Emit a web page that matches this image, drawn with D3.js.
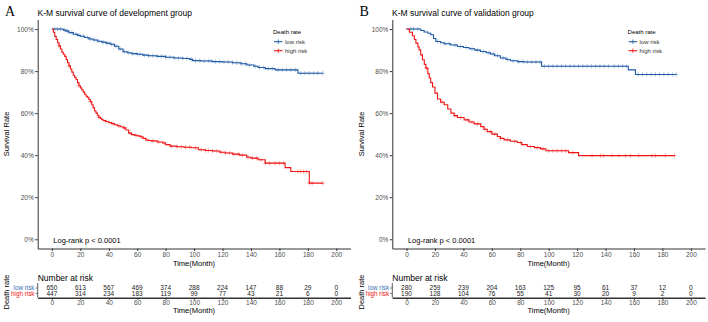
<!DOCTYPE html>
<html>
<head>
<meta charset="utf-8">
<script src="https://cdn.jsdelivr.net/npm/d3@7/dist/d3.min.js"></script>
<style>
  html, body { margin: 0; padding: 0; background: #fff; }
  svg { display: block; font-family: "Liberation Sans", Arial, sans-serif; }
  .axis path, .axis line { stroke: #333; }
  .axis text { fill: #4d4d4d; font-size: 6.5px; }
</style>
</head>
<body>
<div id="chart"></div>
<script>
/* Kaplan-Meier curves, development vs validation group, with risk tables. */

var timeTicks = [0, 20, 40, 60, 80, 100, 120, 140, 160, 180, 200];
var rateTicks = [0, 20, 40, 60, 80, 100];
var groups = ["low risk", "high risk"];

// development group, step times (months) and survival (%)
var devLowTime = [0, 8, 10, 12, 15, 18, 20, 23, 26, 29, 32, 35, 38, 41, 44, 47, 50, 53, 56, 60, 64, 68, 74, 80, 86, 92, 97, 99, 105, 113, 120, 127, 133, 137, 142, 145, 150, 157, 173];
var devLowSurv = [100, 99.5, 99, 98.3, 97.5, 97, 96.6, 96, 95.3, 94.8, 94.2, 93.8, 93.3, 92.8, 91.8, 90.5, 89.2, 88.7, 88.3, 88, 87.6, 87.3, 87, 86.6, 86.2, 86, 85.6, 85, 84.8, 84.5, 84.3, 84, 83.5, 82.9, 82.3, 81.7, 81.2, 80.6, 79];
var devLowCens = [2, 4, 6, 9, 11, 14, 17, 19, 22, 25, 27, 30, 33, 36, 39, 42, 45, 48, 51, 54, 57, 60, 62, 65, 68, 71, 74, 77, 80, 83, 86, 89, 92, 95, 98, 101, 104, 107, 110, 112, 115, 118, 121, 124, 127, 130, 133, 136, 139, 143, 146, 149, 152, 155, 159, 162, 165, 168, 171, 175, 178, 181, 184, 187, 190.5];

var devHighTime = [0, 1, 2, 3, 4, 5, 6, 7, 8, 9, 10, 11, 12, 13, 14, 15, 16, 17, 18, 19, 20, 21, 22, 23, 24, 25, 26, 27, 28, 29, 30, 31, 32, 33, 34, 35, 36, 38, 40, 42, 44, 46, 48, 50, 52, 54, 56, 58, 60, 62, 64, 66, 68, 70, 74, 78, 80, 83, 88, 93, 98, 103, 108, 113, 118, 122, 127, 132, 137, 140, 145, 150, 164, 168, 181];
var devHighSurv = [100, 98.5, 96.5, 95, 93.5, 92, 90.5, 89, 88, 87, 85.5, 84, 82.5, 81, 79.5, 78, 77, 76, 74.5, 73, 72, 71, 70, 69, 68, 67.5, 66.5, 65.5, 64, 62.5, 61, 60, 59, 58, 57.5, 57, 56.5, 56, 55.5, 55, 54.5, 54, 53.5, 53, 52, 50.5, 49.8, 49.5, 49.2, 48.8, 48, 47.2, 47, 46.8, 46.3, 45.8, 45, 44.3, 44, 43.8, 43.5, 42.6, 42.2, 42, 41.4, 41, 40.5, 40, 39, 38.6, 37.8, 36.2, 34.1, 32.2, 26.7];
var devHighCens = [5, 12, 19, 27, 33, 38, 43, 47, 51, 55, 59, 63, 67, 71, 75, 79, 84, 88, 91, 94, 97, 101, 105, 108, 110, 113, 116, 119, 122, 125, 128, 131, 134, 138, 141, 144, 147, 150, 153, 157, 160, 163, 173, 175, 177, 179, 181, 183, 190.6];

// validation group
var valLowTime = [0, 10, 12.4, 15, 17, 19, 20.6, 24, 26.5, 31, 35.8, 40, 44, 48, 52, 56, 59, 62, 66, 70, 73, 78, 82.6, 95, 156, 161];
var valLowSurv = [100, 99.3, 98.6, 98, 97.3, 95.5, 94.1, 93.5, 93, 92.4, 91.7, 91.2, 90.6, 90, 89.3, 88.7, 88.1, 87.3, 86.2, 85.5, 84.9, 84.5, 84.3, 82.3, 80.6, 78.4];
var valLowCens = [3, 5, 8, 22, 27, 30, 34, 38, 42, 46, 50, 54, 58, 61, 64, 68, 71, 75, 79, 82, 85, 88, 91, 94, 97, 100, 103, 106, 109, 112, 115, 118, 121, 124, 127, 130, 133, 136, 139, 142, 146, 149, 152, 154.7, 163, 166, 169, 172, 175, 178, 181, 184, 187, 189.7];

var valHighTime = [0, 2, 4.2, 5.5, 6.6, 8, 8.9, 10, 11.2, 12.5, 13.6, 15, 16, 17, 18.3, 20, 21.8, 24, 26.5, 29, 31.2, 33.5, 35.8, 40.5, 44, 47.5, 52.2, 54.5, 56.8, 60, 63.9, 66, 68.6, 73, 77.9, 81, 84.9, 90, 94.3, 98, 114, 121];
var valHighSurv = [100, 98.5, 96.8, 95, 93.3, 91.5, 90.1, 87.7, 85.4, 83.2, 81.4, 78.8, 76.7, 74.5, 72.4, 69.5, 66.7, 65.2, 64, 62, 60, 58.8, 57.9, 56.8, 55.8, 54.9, 53.6, 52.3, 51.2, 50, 48.9, 48, 47.3, 46.6, 46, 45, 44.1, 43.6, 43, 42.1, 41.2, 39.8];
var valHighCens = [14, 25, 34, 38, 43, 46, 50, 55, 59, 62, 66, 71, 76, 80, 87, 92, 96, 100, 103, 106, 109, 112, 117, 130.5, 136.4, 138.7, 144.6, 149.3, 154, 157.5, 163.3, 172.6, 175, 182, 188.5];

// number at risk at each time tick
var devRiskLow = [650, 613, 567, 469, 374, 288, 224, 147, 88, 29, 0];
var devRiskHigh = [447, 314, 234, 183, 119, 99, 77, 43, 21, 6, 0];
var valRiskLow = [280, 259, 239, 204, 163, 125, 95, 61, 37, 12, 0];
var valRiskHigh = [190, 128, 104, 76, 55, 41, 30, 20, 9, 2, 0];

var colorLow = "#1f5aa6";
var colorHigh = "#f01414";

var width = 708, height = 322;
var svg = d3.select("#chart").append("svg")
  .attr("width", width).attr("height", height)
  .attr("viewBox", "0 0 " + width + " " + height);

function stepValue(times, surv, t) {
  var i = d3.bisectRight(times, t) - 1;
  return surv[Math.max(0, i)];
}

function drawPanel(ox, tag, title, low, high, riskLow, riskHigh) {
  var g = svg.append("g").attr("transform", "translate(" + ox + ",0)");
  var x = d3.scaleLinear().domain([-10, 210]).range([37.7, 350.5]);
  var y = d3.scaleLinear().domain([-4.4, 104.5]).range([248.5, 19.6]);

  g.append("text").attr("x", 5).attr("y", 16)
    .style("font-family", "'Liberation Serif', 'DejaVu Serif', serif")
    .style("font-size", "14px").text(tag);
  g.append("text").attr("x", 37.5).attr("y", 15.5)
    .style("font-size", "8.5px").text(title);

  g.append("g").attr("class", "axis").attr("transform", "translate(0," + y(-4.4) + ")")
    .call(d3.axisBottom(x).tickValues(timeTicks).tickSize(2.5).tickSizeOuter(0).tickPadding(1.5));
  g.append("g").attr("class", "axis").attr("transform", "translate(37.7,0)")
    .call(d3.axisLeft(y).tickValues(rateTicks).tickSize(2.5).tickSizeOuter(0).tickPadding(1.5)
      .tickFormat(function (v) { return v + "%"; }));

  g.append("text").attr("x", 194).attr("y", 265.5).attr("text-anchor", "middle")
    .style("font-size", "7.5px").text("Time(Month)");
  g.append("text").attr("transform", "translate(9,134) rotate(-90)").attr("text-anchor", "middle")
    .style("font-size", "7.5px").text("Survival Rate");

  var line = d3.line().curve(d3.curveStepAfter)
    .x(function (d) { return x(d[0]); }).y(function (d) { return y(d[1]); });

  [[low, colorLow], [high, colorHigh]].forEach(function (s) {
    var d = s[0], col = s[1];
    var pts = d.time.map(function (t, i) { return [t, d.surv[i]]; });
    var tEnd = d3.max(d.cens);
    pts.push([tEnd, d.surv[d.surv.length - 1]]);
    g.append("path").attr("d", line(pts)).attr("fill", "none")
      .attr("stroke", col).attr("stroke-width", 1.1);
    var marks = g.append("g").attr("stroke", col).attr("stroke-width", 0.7).attr("opacity", 0.5);
    d.cens.forEach(function (t) {
      var cx = x(t), cy = y(stepValue(d.time, d.surv, t));
      marks.append("line").attr("x1", cx - 2.2).attr("x2", cx + 2.2).attr("y1", cy).attr("y2", cy);
      marks.append("line").attr("x1", cx).attr("x2", cx).attr("y1", cy - 2.2).attr("y2", cy + 2.2);
    });
  });

  /* Legend */
  var lg = g.append("g").attr("transform", "translate(273,0)");
  lg.append("text").attr("x", 0).attr("y", 34).style("font-size", "6px").text("Death rate");
  [colorLow, colorHigh].forEach(function (col, i) {
    var ly = 41.7 + i * 9;
    lg.append("line").attr("x1", 1).attr("x2", 9.5).attr("y1", ly).attr("y2", ly)
      .attr("stroke", col).attr("stroke-width", 1.1);
    lg.append("line").attr("x1", 5.25).attr("x2", 5.25).attr("y1", ly - 2.2).attr("y2", ly + 2.2)
      .attr("stroke", col).attr("stroke-width", 0.8);
    lg.append("text").attr("x", 12).attr("y", ly + 2).style("font-size", "6px")
      .style("fill", "#333").text(groups[i]);
  });

  g.append("text").attr("x", 53.3).attr("y", 242.8).style("font-size", "7.5px")
    .text("Log-rank  p < 0.0001");

  /* Risk table */
  g.append("text").attr("x", 37.7).attr("y", 281).style("font-size", "8.5px").text("Number at risk");
  var rowY = [288, 293.5];
  var rows = [riskLow, riskHigh];
  rows.forEach(function (vals, r) {
    g.append("text").attr("x", 34.5).attr("y", rowY[r] + 2.3).attr("text-anchor", "end")
      .style("font-size", "6.3px").style("fill", r === 0 ? "#3a6fb5" : colorHigh).text(groups[r]);
    vals.forEach(function (v, i) {
      g.append("text").attr("x", x(timeTicks[i])).attr("y", rowY[r] + 2.3)
        .attr("text-anchor", "middle").style("font-size", "6.5px").style("fill", "#222").text(v);
    });
    g.append("line").attr("x1", 35.5).attr("x2", 37.7).attr("y1", rowY[r]).attr("y2", rowY[r])
      .attr("stroke", "#333").attr("stroke-width", 0.6);
  });
  g.append("line").attr("x1", 37.7).attr("x2", 37.7).attr("y1", 283).attr("y2", 297.8)
    .attr("stroke", "#333").attr("stroke-width", 0.8);
  g.append("g").attr("class", "axis").attr("transform", "translate(0,297.8)")
    .call(d3.axisBottom(x).tickValues(timeTicks).tickSize(2).tickSizeOuter(0).tickPadding(0.8))
    .select(".domain").attr("stroke", "#888").attr("stroke-width", 1.5);
  g.append("text").attr("x", 194).attr("y", 313).attr("text-anchor", "middle")
    .style("font-size", "7.5px").text("Time(Month)");
  g.append("text").attr("transform", "translate(9,292) rotate(-90)").attr("text-anchor", "middle")
    .style("font-size", "7.5px").text("Death rate");
}

drawPanel(0, "A", "K-M survival curve of development group",
  { time: devLowTime, surv: devLowSurv, cens: devLowCens },
  { time: devHighTime, surv: devHighSurv, cens: devHighCens },
  devRiskLow, devRiskHigh);

drawPanel(354.6, "B", "K-M survival curve of validation group",
  { time: valLowTime, surv: valLowSurv, cens: valLowCens },
  { time: valHighTime, surv: valHighSurv, cens: valHighCens },
  valRiskLow, valRiskHigh);
</script>
</body>
</html>
